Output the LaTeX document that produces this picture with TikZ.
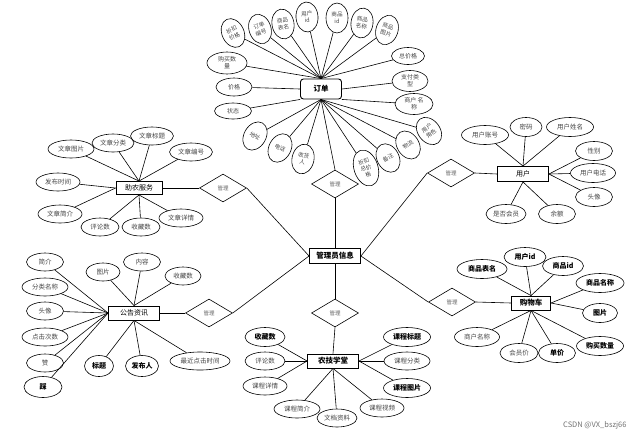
\documentclass[tikz,border=0pt]{standalone}
\usepackage{fontspec}
\setmainfont{Noto Sans CJK SC}
\usetikzlibrary{shapes.geometric}
\begin{document}
\begin{tikzpicture}[x=1pt,y=-1pt,
  ent/.style={draw, line width=0.9pt, rectangle, inner sep=1pt, font=\fontsize{7}{8}\selectfont},
  bent/.style={ent, font=\fontsize{7.5}{8}\selectfont\bfseries},
  attr/.style={draw, ellipse, line width=0.6pt, inner sep=0.3pt, align=center, font=\fontsize{6.5}{7.5}\selectfont, text=black!72},
  battr/.style={attr, font=\fontsize{7}{7.5}\selectfont\bfseries, text=black},
  fan/.style={attr, inner sep=0pt, minimum width=22pt, minimum height=30pt, font=\fontsize{5.6}{7}\selectfont},
  rel/.style={draw, diamond, line width=0.6pt, minimum width=47pt, minimum height=28pt, inner sep=0pt, font=\fontsize{5.5}{6}\selectfont, text=black!60},
  ln/.style={line width=0.6pt}
]
\useasboundingbox (0,0) rectangle (639,437);
\fill[white] (0,0) rectangle (639,437);

% entities
\node[bent, minimum width=41pt, minimum height=20pt, rounded corners=3pt] (order) at (321,89) {订单};
\node[bent, minimum width=51pt, minimum height=15pt] (admin) at (335,256) {管理员信息};
\node[ent, minimum width=46pt, minimum height=13pt] (zn) at (139,188) {助农服务};
\node[ent, minimum width=51pt, minimum height=14pt] (gg) at (134,313) {公告资讯};
\node[ent, minimum width=51pt, minimum height=15pt] (user) at (523,174) {用户};
\node[bent, minimum width=39pt, minimum height=14pt] (cart) at (531,303) {购物车};
\node[bent, minimum width=51pt, minimum height=14pt] (farm) at (333,361) {农技学堂};

% relations
\node[rel] (r1) at (335,184) {管理};
\node[rel] (r2) at (223,188) {管理};
\node[rel] (r3) at (209,313) {管理};
\node[rel] (r4) at (451,173) {管理};
\node[rel] (r5) at (452,302) {管理};
\node[rel] (r6) at (335,313) {管理};

\draw[ln] (order.south) -- (r1.north);
\draw[ln] (r1.south) -- (admin.north);
\draw[ln] (admin.south) -- (r6.north);
\draw[ln] (r6.south) -- (farm.north);
\draw[ln] (r2.east) -- (admin.west);
\draw[ln] (r3.east) -- (admin.west);
\draw[ln] (r4.west) -- (admin.east);
\draw[ln] (r5.west) -- (admin.east);
\draw[ln] (r2.west) -- (zn.east);
\draw[ln] (r3.west) -- (gg.east);
\draw[ln] (r4.east) -- (user.west);
\draw[ln] (r5.east) -- (cart.west);

% order fan (rotated ellipses)
\foreach \nm/\px/\py/\rot/\anc/\txt in {
  oa/233/33/25/north/{折扣\\价格},
  ob/260/29/18/north/{订单\\编号},
  oc/283/24/10/north/{商品\\表名},
  od/307/17/4/north/{用户\\id},
  oe/337/18/0/north/{商品\\id},
  of/362/23/-8/north/{商品\\名称},
  og/387/30/-18/north/{商品\\图片},
  oh/255/136/-30/south/{地址},
  oi/280/148/-28/south/{电话},
  oj/303/159/-12/south/{收货\\人},
  ol/388/158/28/south/{备注},
  om/408/145/32/south/{物流},
  on/429/131/38/south/{用户\\角色}}
{\node[fan, rotate=\rot] (\nm) at (\px,\py) {\txt};
 \draw[ln] (order.\anc) -- (\nm);}
\node[fan, minimum width=24pt, minimum height=37pt, rotate=18] (ok) at (366,168) {折扣\\总价\\格};
\draw[ln] (order.south) -- (ok);

\foreach \nm/\px/\py/\w/\h/\anc/\txt in {
  p1/227/63/40/22/north/{购买数\\量},
  p2/234/87/36/18/west/{价格},
  p3/233/111/37/16/south west/{状态},
  p4/408/56/33/17/north/{总价格},
  p5/410/81/36/21/east/{支付类\\型},
  p6/414/104/38/21/south east/{商户 名\\称}}
{\node[attr, minimum width=\w pt, minimum height=\h pt, font=\fontsize{6}{7.2}\selectfont] (\nm) at (\px,\py) {\txt};
 \draw[ln] (order.\anc) -- (\nm);}

% 助农服务
\foreach \nm/\px/\py/\w/\anc/\txt in {
  z1/71/149/46/north/文章图片,
  z2/113/143/42/north/文章分类,
  z3/152/136/43/north/文章标题,
  z4/191/152/43/north/文章编号,
  z5/58/182/44/west/发布时间,
  z6/60/214/44/west/文章简介,
  z7/100/227/38/south/评论数,
  z8/141/227/38/south/收藏数,
  z9/181/218/44/south/文章详情}
{\node[attr, minimum width=\w pt, minimum height=18pt] (\nm) at (\px,\py) {\txt};
 \draw[ln] (zn.\anc) -- (\nm);}

% 公告资讯
\foreach \nm/\px/\py/\w/\anc/\txt in {
  g1/45/262/37/west/简介,
  g2/45/287/46/west/分类名称,
  g3/45/311/37/west/头像,
  g4/45/337/46/west/点击次数,
  g5/45/363/37/west/赞,
  g6/103/272/34/north/图片,
  g7/142/262/37/north/内容,
  g8/183/276/36/north/收藏数,
  g9/200/361/60/south/最近点击时间}
{\node[attr, minimum width=\w pt, minimum height=18pt] (\nm) at (\px,\py) {\txt};
 \draw[ln] (gg.\anc) -- (\nm);}
\foreach \nm/\px/\py/\w/\anc/\txt in {
  g10/43/387/38/west/踩,
  g11/99/366/29/south/标题,
  g12/142/366/33/south/发布人}
{\node[battr, minimum width=\w pt, minimum height=21pt] (\nm) at (\px,\py) {\txt};
 \draw[ln] (gg.\anc) -- (\nm);}

% 用户
\foreach \nm/\px/\py/\w/\anc/\txt in {
  u1/485/135/47/north/用户账号,
  u2/526/127/32/north/密码,
  u3/570/127/47/north/用户姓名,
  u4/594/151/37/east/性别,
  u5/593/173/45/east/用户电话,
  u6/594/197/37/east/头像,
  u7/506/214/40/south/是否会员,
  u8/557/214/37/south/余额}
{\node[attr, minimum width=\w pt, minimum height=19pt] (\nm) at (\px,\py) {\txt};
 \draw[ln] (user.\anc) -- (\nm);}

% 购物车
\foreach \nm/\px/\py/\w/\anc/\txt in {
  c1/482/269/50/north/商品表名,
  c2/525/257/42/north/用户id,
  c3/563/266/41/north/商品id,
  c4/600/283/48/east/商品名称,
  c5/600/313/35/east/图片,
  c6/600/346/47/south/购买数量,
  c7/557/353/37/south/单价}
{\node[battr, minimum width=\w pt, minimum height=19pt] (\nm) at (\px,\py) {\txt};
 \draw[ln] (cart.\anc) -- (\nm);}
\foreach \nm/\px/\py/\w/\anc/\txt in {
  c8/519/353/38/south/会员价,
  c9/477/337/45/south/商户名称}
{\node[attr, minimum width=\w pt, minimum height=19pt] (\nm) at (\px,\py) {\txt};
 \draw[ln] (cart.\anc) -- (\nm);}

% 农技学堂
\foreach \nm/\px/\py/\w/\anc/\txt in {
  f2/265/361/40/west/评论数,
  f3/265/386/44/west/课程详情,
  f4/297/409/46/south/课程简介,
  f5/337/418/40/south/文档资料,
  f6/382/408/44/south/课程视频,
  f8/407/361/46/east/课程分类}
{\node[attr, minimum width=\w pt, minimum height=18pt] (\nm) at (\px,\py) {\txt};
 \draw[ln] (farm.\anc) -- (\nm);}
\foreach \nm/\px/\py/\w/\anc/\txt in {
  f1/265/337/40/west/收藏数,
  f7/407/388/47/east/课程图片,
  f9/407/337/47/east/课程标题}
{\node[battr, minimum width=\w pt, minimum height=19pt] (\nm) at (\px,\py) {\txt};
 \draw[ln] (farm.\anc) -- (\nm);}

% watermark
\node[font=\fontsize{7.5}{8}\selectfont, text=black!55, anchor=east] (wm) at (630,425) {CSDN @VX\_bszj66};
\end{tikzpicture}
\end{document}
